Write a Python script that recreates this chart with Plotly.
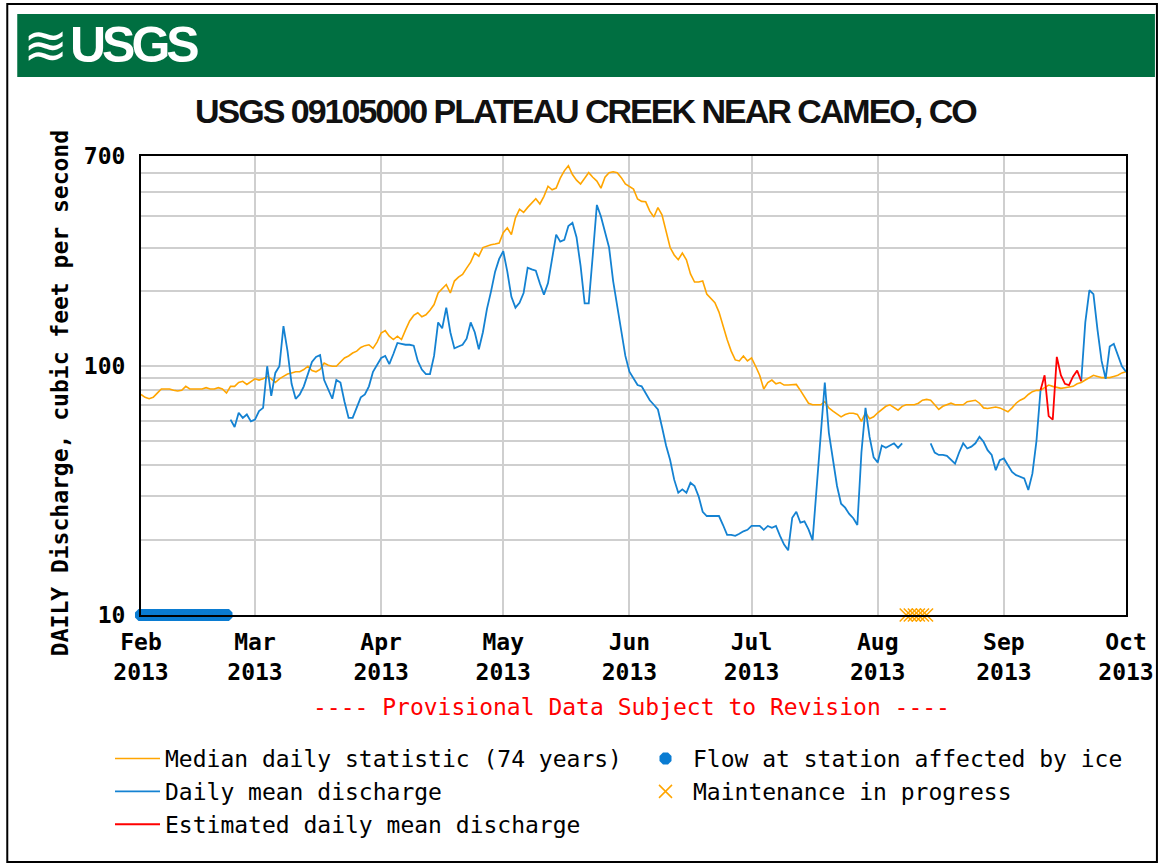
import math
import pandas as pd
import plotly.graph_objects as go

# ---------------- data ----------------
median_start = "2013-02-01"
median_cfs = [
    77, 75, 74, 75, 78, 81, 81, 81, 80, 79.5,
    80, 83, 81, 81, 81, 81, 82, 81, 81, 82,
    81, 78, 83, 83, 86, 87, 84.5, 87, 89, 88,
    89, 91, 89, 86, 89, 91, 93, 94, 95, 95,
    97, 100, 96, 95, 97, 103, 101, 100, 100, 104,
    108, 110, 113, 115, 119, 121, 122, 118, 125, 136,
    139, 132, 128, 132, 128, 140, 152, 160, 164, 158,
    161, 168, 177, 197, 205, 213, 197, 220, 228, 234,
    248, 262, 285, 277, 300, 305, 308, 310, 313, 344,
    360, 338, 395, 428, 415, 435, 455, 471, 449, 482,
    529, 512, 520, 570, 610, 640, 590, 560, 540, 570,
    600, 575, 555, 520, 575, 600, 605, 600, 573, 540,
    529, 515, 470, 460, 458, 420, 398, 434, 406, 350,
    300, 280, 268, 285, 268, 235, 218, 218, 220, 195,
    188, 180, 165, 145, 128, 115, 106, 105, 110, 105,
    108, 100, 92, 81, 86, 88, 85, 86, 84, 84,
    84, 84.5, 80, 75.5, 71, 70, 70, 70, 72, 68,
    66, 64, 62.6, 64, 64.7, 64.7, 64, 60, 65, 61.5,
    62.6, 65, 67, 69, 70, 68, 66.6, 69, 70, 70,
    70, 71, 73, 73.6, 73, 70, 67, 69, 70, 71,
    70, 70, 70, 72, 72.5, 73, 71, 68, 67.6, 68,
    68.6, 68, 67, 65.6, 68, 71, 73, 74.3, 77, 79,
    80, 80, 82, 84, 83, 82, 81.5, 82, 82.5, 83,
    85, 86, 88, 90, 92, 91, 90, 90, 90, 91,
    92, 94, 95,
]

daily_start = "2013-02-23"
N = None
daily_cfs = [
    61, 57, 65, 62, 64, 60, 61, 66, 68, 100,
    76, 94, 100, 145, 115, 85, 74, 77, 83, 92,
    104, 109, 111, 88, 80, 74, 88, 86, 72, 62,
    62, 68, 75, 77, 83, 95, 102, 108, 110, 102,
    112, 124, 123, 122, 122, 121, 105, 97, 93, 93,
    110, 150, 142, 172, 137, 118, 120, 122, 129, 150,
    137, 117, 137, 170, 200, 240, 270, 290, 240, 190,
    172, 180, 197, 249, 245, 242, 215, 194, 216, 268,
    338, 317, 322, 366, 377, 330, 253, 179, 179, 280,
    445, 400, 344, 300, 220, 174, 140, 110, 95, 89,
    84, 83, 78, 73, 70, 67, 57, 48, 42, 35,
    31, 32, 31, 34, 33, 30, 26, 25, 25, 25,
    25, 23, 21, 21, 20.8, 21.2, 21.7, 22, 22.8, 22.8,
    22.8, 22, 22.8, 22.4, 22.8, 20.8, 19.2, 18.2, 24.6, 26,
    23.5, 23.8, 22.1, 20, 33, 55, 86, 54, 42, 33,
    28, 27, 25.5, 24.5, 23, 45, 68, 52, 43, 41,
    48, 47, 48, 49, 47, 49, N, N, N, N,
    N, N, 49, 45, 44, 44, 43.6, 42, 40.6, 45,
    49, 46.7, 47.5, 49, 52, 49.7, 46, 44, 38.2, 41.9,
    42.6, 40, 37.6, 36.5, 35.9, 35.4, 31.8, 37, 50, 80,
    N, N, N, N, N, N, N, N, N, 87,
    150, 202, 195, 140, 105, 89, 120, 123, 110, 100, 95,
]

estimated_start = "2013-09-10"
estimated_cfs = [80, 92, 63, 61, 109, 92, 85, 84, 91, 96, 87]

ice_start, ice_end = "2013-02-01", "2013-02-22"
maint_start, maint_end = "2013-08-08", "2013-08-13"
marker_level = 10

month_ticks = ["2013-02-01", "2013-03-01", "2013-04-01", "2013-05-01", "2013-06-01",
               "2013-07-01", "2013-08-01", "2013-09-01", "2013-10-01"]
month_labels = ["Feb<br>2013", "Mar<br>2013", "Apr<br>2013", "May<br>2013", "Jun<br>2013",
                "Jul<br>2013", "Aug<br>2013", "Sep<br>2013", "Oct<br>2013"]
y_ticks = [10, 20, 30, 40, 50, 60, 70, 80, 90, 100, 200, 300, 400, 500, 600, 700]
y_labels = ["10", "", "", "", "", "", "", "", "", "100", "", "", "", "", "", "700"]

# ---------------- styling ----------------
W, H = 1166, 865
L, R, T, B = 141, 38, 156, 250
PW, PH = W - L - R, H - T - B
def px(x):
    return (x - L) / PW
def py(y):
    return (T + PH - y) / PH

ORANGE = "#FFA500"
BLUE = "#1482D2"
RED = "#FF0000"
GRID = "#CFCFCF"
MONO = "DejaVu Sans Mono, monospace"
SANS = "Liberation Sans, Arial, sans-serif"

def tight(s, spacing):
    return '<span style="letter-spacing:%spx">%s</span>' % (spacing, s)

median_dates = pd.date_range(median_start, periods=len(median_cfs), freq="D")
daily_dates = pd.date_range(daily_start, periods=len(daily_cfs), freq="D")
est_dates = pd.date_range(estimated_start, periods=len(estimated_cfs), freq="D")
ice_dates = pd.date_range(ice_start, ice_end, freq="D")
maint_dates = pd.date_range(maint_start, maint_end, freq="D")

fig = go.Figure()
fig.add_trace(go.Scatter(x=median_dates, y=median_cfs, mode="lines",
                         line=dict(color=ORANGE, width=1.6),
                         name="Median daily statistic (74 years)", legendrank=1))
fig.add_trace(go.Scatter(x=daily_dates, y=daily_cfs, mode="lines",
                         line=dict(color=BLUE, width=1.8), connectgaps=False,
                         name="Daily mean discharge", legendrank=3))
fig.add_trace(go.Scatter(x=est_dates, y=estimated_cfs, mode="lines",
                         line=dict(color=RED, width=1.8),
                         name="Estimated daily mean discharge", legendrank=5))
fig.add_trace(go.Scatter(x=ice_dates, y=[marker_level] * len(ice_dates), mode="markers",
                         marker=dict(symbol="octagon", size=13, color="#0A7CD2"),
                         cliponaxis=False,
                         name="Flow at station affected by ice", legendrank=2))
fig.add_trace(go.Scatter(x=maint_dates, y=[marker_level] * len(maint_dates), mode="markers",
                         marker=dict(symbol="x-thin-open", size=13,
                                     line=dict(color=ORANGE, width=1.5), color=ORANGE),
                         cliponaxis=False,
                         name="Maintenance in progress", legendrank=4))

fig.update_layout(
    width=W, height=H,
    margin=dict(l=L, r=R, t=T, b=B),
    paper_bgcolor="white", plot_bgcolor="white",
    showlegend=True,
    legend=dict(orientation="h", x=px(138), y=py(737), xanchor="left", yanchor="top",
                font=dict(family=MONO, size=23, color="black"),
                itemwidth=45, entrywidth=468, tracegroupgap=0, bgcolor="rgba(0,0,0,0)"),
    xaxis=dict(type="date", range=["2013-02-01", "2013-10-01"],
               tickmode="array", tickvals=month_ticks, ticktext=month_labels,
               showgrid=True, gridcolor=GRID, gridwidth=2, ticks="",
               showline=True, linecolor="black", linewidth=2, mirror=True,
               tickfont=dict(family=MONO, size=23, color="black", weight="bold"),
               ticklabelstandoff=5),
    yaxis=dict(type="log", range=[1, math.log10(700)],
               tickmode="array", tickvals=y_ticks, ticktext=y_labels,
               showgrid=True, gridcolor=GRID, gridwidth=2, ticks="",
               showline=True, linecolor="black", linewidth=2, mirror=True,
               tickfont=dict(family=MONO, size=23, color="black", weight="bold"),
               ticklabelstandoff=9),
    shapes=[
        dict(type="rect", xref="paper", yref="paper", x0=px(7), x1=px(1159), y0=py(862), y1=py(4),
             line=dict(color="black", width=2), fillcolor="rgba(0,0,0,0)", layer="below"),
        dict(type="rect", xref="paper", yref="paper", x0=px(17), x1=px(1157), y0=py(77), y1=py(14),
             line=dict(width=0), fillcolor="#006F41", layer="below"),
    ],
    annotations=[
        dict(text="≋", xref="paper", yref="paper", x=px(45), y=py(46), showarrow=False,
             xanchor="center", yanchor="middle",
             font=dict(family="DejaVu Sans", size=54, color="white")),
        dict(text=tight("USGS", -4), xref="paper", yref="paper", x=px(68), y=py(45), showarrow=False,
             xanchor="left", yanchor="middle",
             font=dict(family=SANS, size=50, color="white", weight="bold")),
        dict(text=tight("USGS 09105000 PLATEAU CREEK NEAR CAMEO, CO", -2), xref="paper", yref="paper",
             x=px(587), y=py(111), showarrow=False, xanchor="center", yanchor="middle",
             font=dict(family=SANS, size=34, color="#111111", weight="bold")),
        dict(text="DAILY Discharge, cubic feet per second", xref="paper", yref="paper",
             x=px(60), y=py(393), showarrow=False, textangle=-90,
             xanchor="center", yanchor="middle",
             font=dict(family=MONO, size=23, color="black", weight="bold")),
        dict(text="---- Provisional Data Subject to Revision ----", xref="paper", yref="paper",
             x=px(632), y=py(707), showarrow=False, xanchor="center", yanchor="middle",
             font=dict(family=MONO, size=23, color=RED)),
    ],
)

fig.write_html("out.html", config={"displayModeBar": False},
               post_script="document.body.style.margin='0px';")
